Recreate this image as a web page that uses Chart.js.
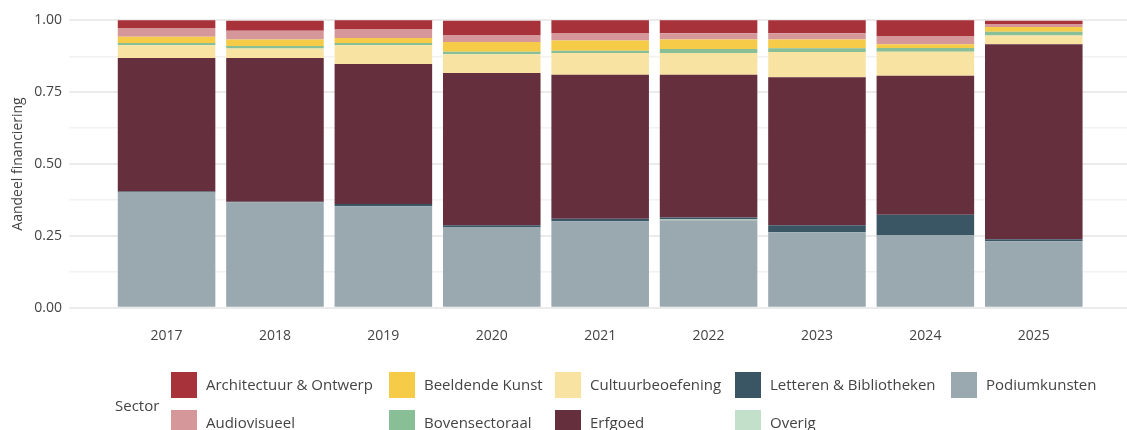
<!DOCTYPE html>
<html>
<head>
<meta charset="utf-8">
<script src="https://cdn.jsdelivr.net/npm/chart.js@4/dist/chart.umd.min.js"></script>
<style>
  html, body { margin: 0; padding: 0; background: #fff; }
  #wrap { position: relative; width: 1127px; height: 430px; overflow: hidden; font-family: "Open Sans", sans-serif; }
  #chartBox { position: absolute; left: 0; top: 0; width: 1127px; height: 345px; }
  #legend { position: absolute; left: 0; top: 0; width: 1127px; height: 430px; pointer-events: none; }
  .sw { position: absolute; width: 26px; height: 26px; }
  .lt { position: absolute; font-size: 15px; color: #444; line-height: 20px; white-space: nowrap; }
</style>
</head>
<body>
<div id="wrap">
  <div id="chartBox"><canvas id="c"></canvas></div>
  <div id="legend"></div>
</div>
<script>
// Share of funding per sector, per year
const years = ['2017', '2018', '2019', '2020', '2021', '2022', '2023', '2024', '2025'];

const architectuur      = [0.027, 0.035, 0.032, 0.052, 0.044, 0.045, 0.045, 0.056, 0.012];
const audiovisueel      = [0.030, 0.031, 0.029, 0.022, 0.026, 0.022, 0.022, 0.027, 0.010];
const beeldendeKunst    = [0.022, 0.022, 0.018, 0.034, 0.036, 0.033, 0.030, 0.013, 0.017];
const bovensectoraal    = [0.008, 0.009, 0.008, 0.009, 0.008, 0.014, 0.013, 0.013, 0.013];
const cultuurbeoefening = [0.044, 0.033, 0.065, 0.065, 0.075, 0.075, 0.088, 0.084, 0.030];
const erfgoed           = [0.465, 0.500, 0.487, 0.530, 0.502, 0.497, 0.515, 0.484, 0.679];
const letteren          = [0.003, 0.002, 0.008, 0.008, 0.008, 0.007, 0.025, 0.070, 0.007];
const overig            = [0.000, 0.000, 0.000, 0.000, 0.000, 0.003, 0.000, 0.000, 0.000];
const podiumkunsten     = [0.401, 0.367, 0.353, 0.279, 0.301, 0.304, 0.262, 0.253, 0.231];

const yTickValues = [0, 0.125, 0.25, 0.375, 0.5, 0.625, 0.75, 0.875, 1];

// Sectors in stacking order (bottom first)
const sectors = [
  { name: 'Podiumkunsten',           values: podiumkunsten,     color: '#9AA8AF' },
  { name: 'Overig',                  values: overig,            color: '#C3E0CB' },
  { name: 'Letteren & Bibliotheken', values: letteren,          color: '#3A5563' },
  { name: 'Erfgoed',                 values: erfgoed,           color: '#652F3E' },
  { name: 'Cultuurbeoefening',       values: cultuurbeoefening, color: '#F9E3A3' },
  { name: 'Bovensectoraal',          values: bovensectoraal,    color: '#88BF96' },
  { name: 'Beeldende Kunst',         values: beeldendeKunst,    color: '#F5CB47' },
  { name: 'Audiovisueel',            values: audiovisueel,      color: '#D6979B' },
  { name: 'Architectuur & Ontwerp',  values: architectuur,      color: '#A8323A' }
];

const datasets = sectors.map(s => ({
  label: s.name,
  data: s.values.map((v, i) => ({ x: i, y: v })),
  backgroundColor: s.color,
  borderWidth: 0,
  barPercentage: 0.9,
  categoryPercentage: 1.0
}));

const isMajor = v => Math.abs(v * 4 - Math.round(v * 4)) < 1e-6;

// Keep the plot area exactly where the layout puts it (no label overhang padding)
const noOverhang = s => { s.paddingTop = 0; s.paddingBottom = 0; s.paddingLeft = 0; s.paddingRight = 0; };

new Chart(document.getElementById('c'), {
  type: 'bar',
  data: { datasets },
  options: {
    responsive: true,
    maintainAspectRatio: false,
    animation: false,
    layout: { padding: { top: 6, left: 0, right: 0, bottom: 0 } },
    plugins: { legend: { display: false }, tooltip: { enabled: false } },
    scales: {
      x: {
        type: 'linear',
        stacked: true,
        offset: false,
        min: -0.9,
        max: 8.86,
        afterBuildTicks: s => { s.ticks = years.map((y, i) => ({ value: i })); },
        afterFit: s => { s.height = 23; noOverhang(s); },
        grid: { display: false, drawTicks: false },
        border: { display: false },
        ticks: {
          padding: 6,
          color: '#444',
          font: { family: 'Open Sans', size: 14 },
          callback: v => years[v] ?? '',
          autoSkip: false,
          maxRotation: 0
        }
      },
      y: {
        stacked: true,
        min: -0.05,
        max: 1.05,
        afterBuildTicks: s => { s.ticks = yTickValues.map(v => ({ value: v })); },
        afterFit: s => { s.width = 69; noOverhang(s); },
        border: { display: false },
        grid: {
          drawTicks: false,
          color: ctx => isMajor(ctx.tick.value) ? '#EBEBEB' : '#F2F2F2',
          lineWidth: ctx => isMajor(ctx.tick.value) ? 2 : 1.5
        },
        ticks: {
          padding: 7,
          color: '#444',
          font: { family: 'Open Sans', size: 14 },
          callback: v => isMajor(v) ? v.toFixed(2) : ''
        },
        title: {
          display: true,
          text: 'Aandeel financiering',
          color: '#444',
          font: { family: 'Open Sans', size: 14 },
          padding: { top: 10, bottom: 0 }
        }
      }
    }
  }
});

// Legend: two rows, filled column by column, in alphabetical sector order
const legendOrder = [
  'Architectuur & Ontwerp', 'Audiovisueel',
  'Beeldende Kunst', 'Bovensectoraal',
  'Cultuurbeoefening', 'Erfgoed',
  'Letteren & Bibliotheken', 'Overig',
  'Podiumkunsten'
];
const colX = [171, 389, 555, 735, 951];
const rowY = [372, 410];
const legend = document.getElementById('legend');

const title = document.createElement('div');
title.className = 'lt';
title.textContent = 'Sector';
title.style.left = '115px';
title.style.top = '395px';
legend.appendChild(title);

legendOrder.forEach((name, k) => {
  const s = sectors.find(d => d.name === name);
  const col = Math.floor(k / 2), row = k % 2;
  const sw = document.createElement('div');
  sw.className = 'sw';
  sw.style.left = colX[col] + 'px';
  sw.style.top = rowY[row] + 'px';
  sw.style.background = s.color;
  legend.appendChild(sw);
  const t = document.createElement('div');
  t.className = 'lt';
  t.textContent = name;
  t.style.left = (colX[col] + 35) + 'px';
  t.style.top = (rowY[row] + 2) + 'px';
  legend.appendChild(t);
});
</script>
</body>
</html>
